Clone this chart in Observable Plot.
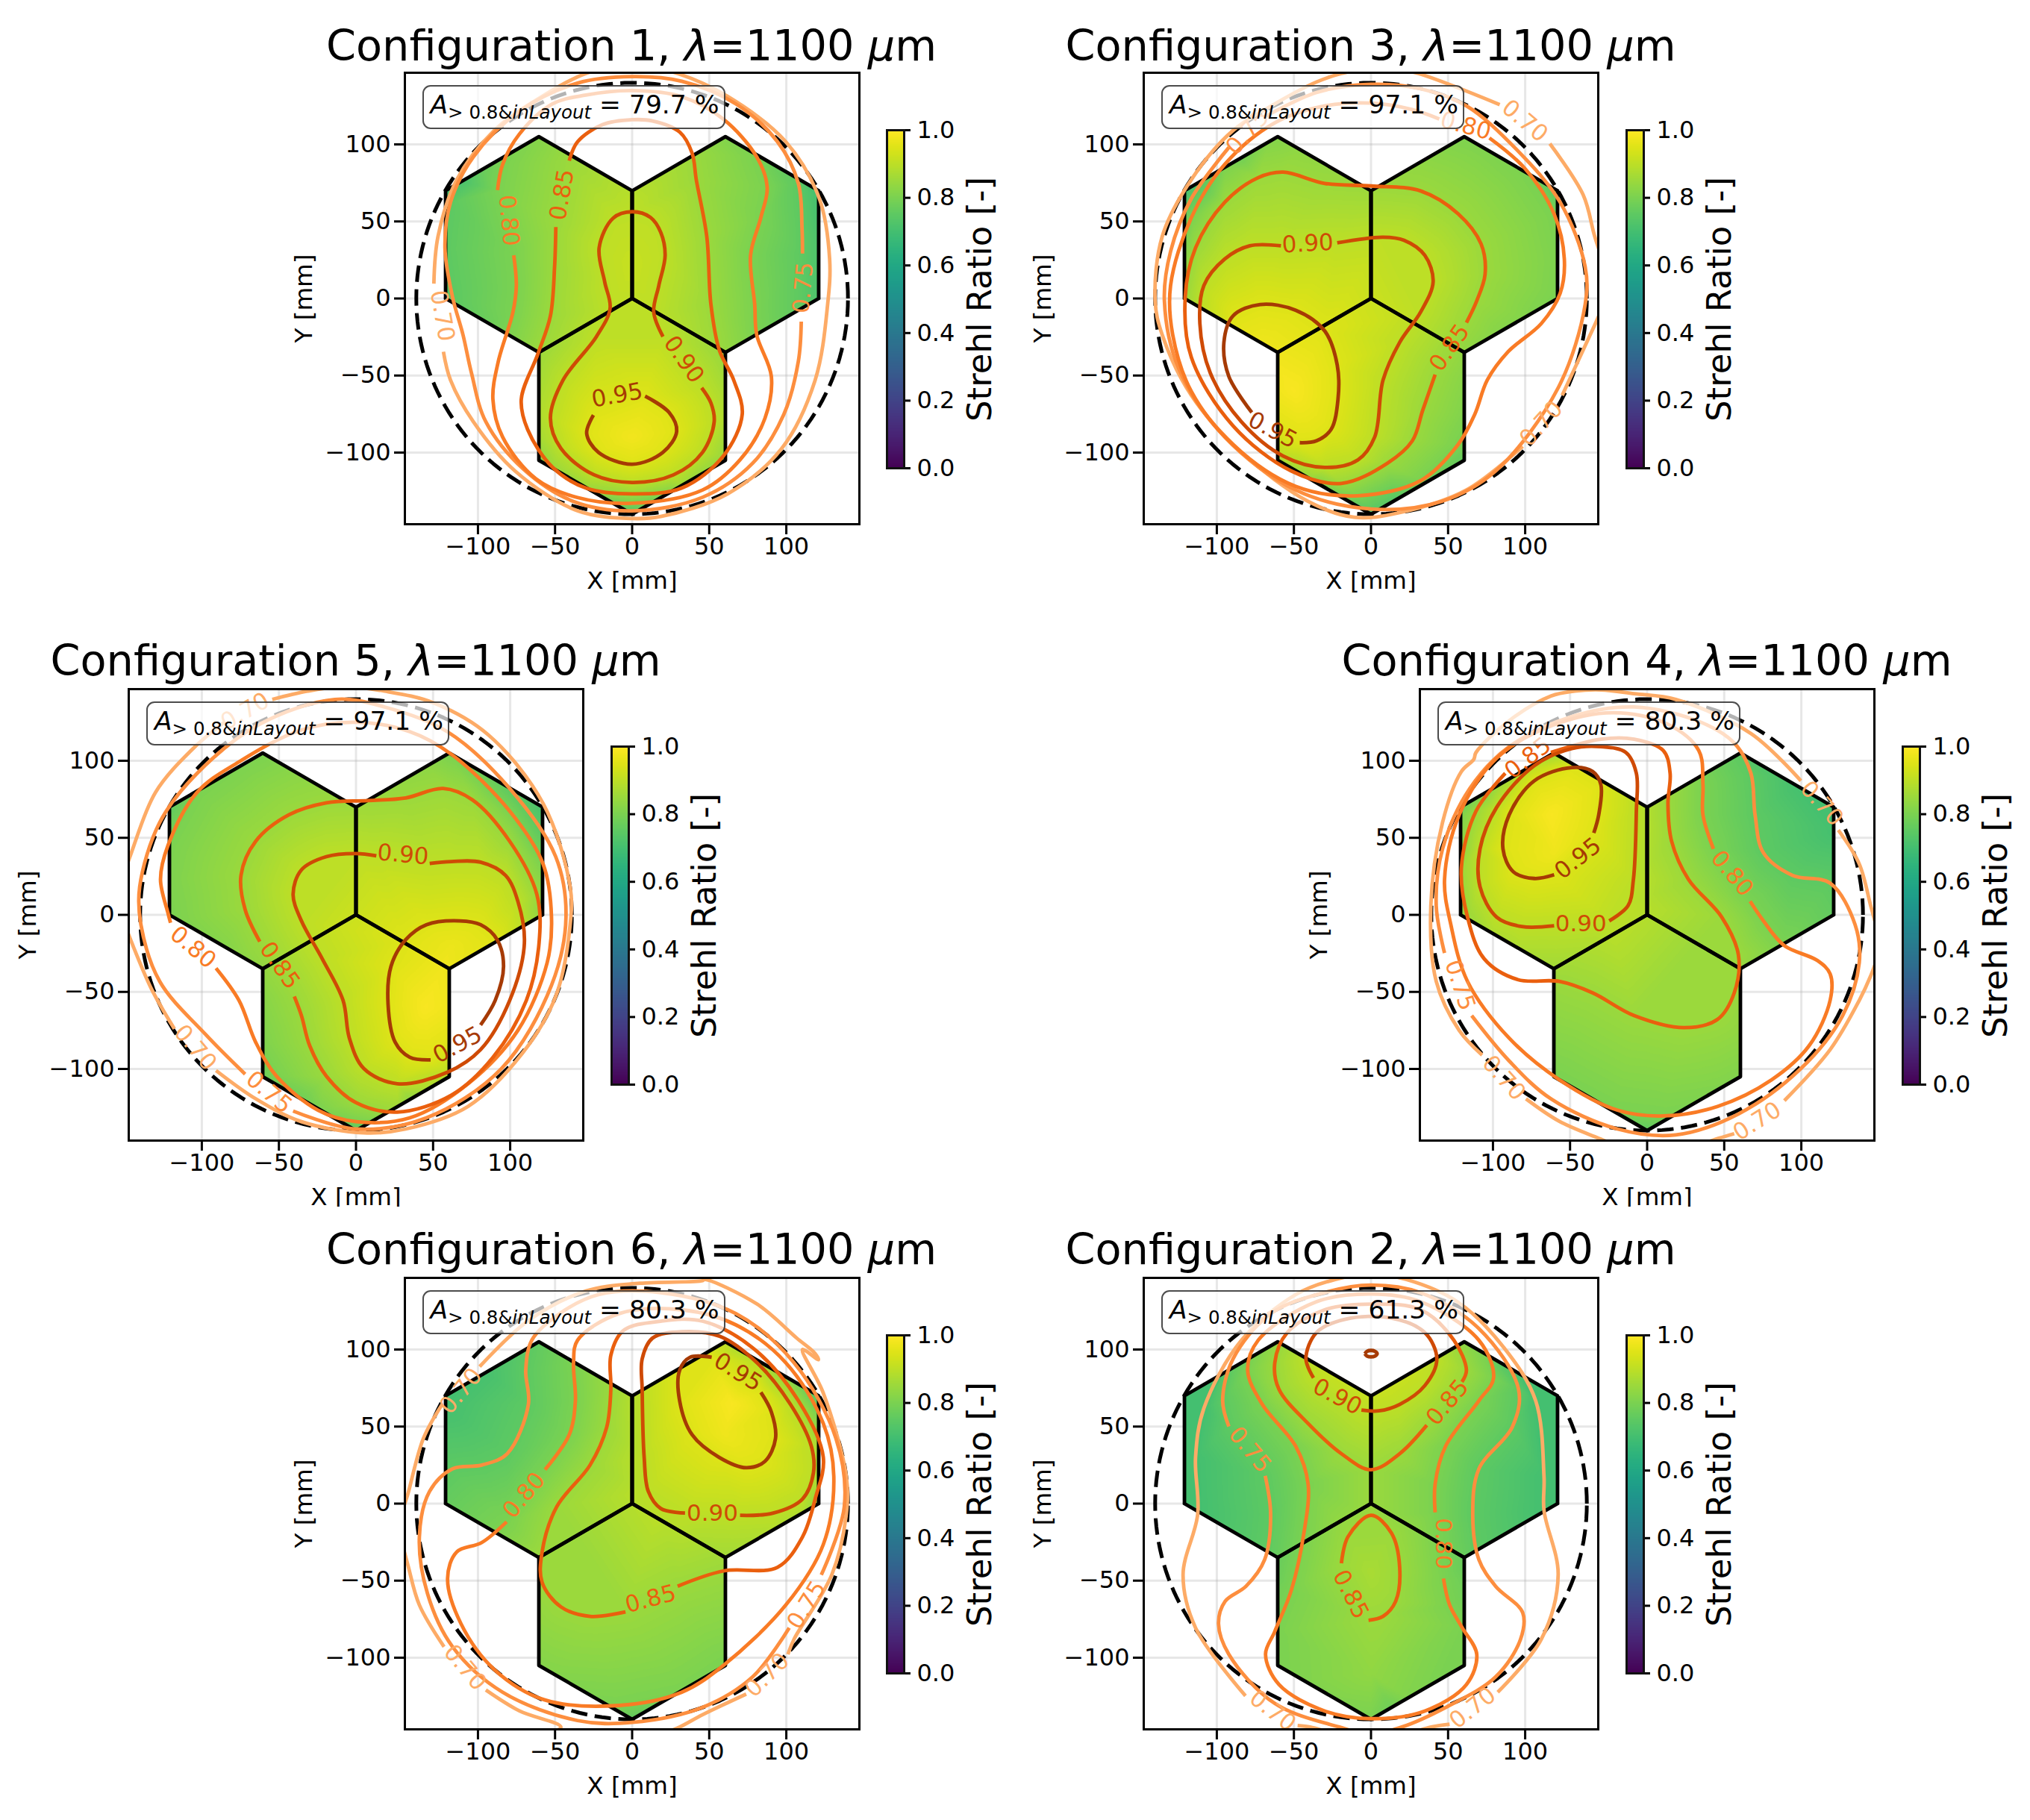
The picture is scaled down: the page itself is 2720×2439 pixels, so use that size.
<!DOCTYPE html>
<html><head><meta charset="utf-8">
<script src="https://cdn.jsdelivr.net/npm/d3@7"></script>
<script src="https://cdn.jsdelivr.net/npm/@observablehq/plot@0.6"></script>
<style>
html,body{margin:0;padding:0;background:#fff}
#root{position:relative;width:2720px;height:2439px;overflow:hidden;background:#fff;font-family:"DejaVu Sans",sans-serif;color:#000}
.title{position:absolute;text-align:center;font-size:57.3px;line-height:70px;white-space:nowrap}
.box{position:absolute;box-sizing:border-box;border:2.5px solid rgba(0,0,0,.7);border-radius:11px;background:rgba(255,255,255,.7);font-size:34.5px;white-space:nowrap;line-height:48px;padding-left:9px}
.box sub{font-size:24.5px;line-height:0;vertical-align:-7px}
svg{position:absolute}
</style></head><body><div id="root"></div>
<script>
const levels=[0.70,0.75,0.80,0.85,0.90,0.95];
const levelColors=["#fdab66","#fd8e3e","#f97b25","#ea5f0e","#cf4a05","#a63a04"];
const xTicks=[-100,-50,0,50,100], yTicks=[-100,-50,0,50,100], barTicks=[0,0.2,0.4,0.6,0.8,1];
const hexLeft=[[-121,0],[-121,70],[-60.5,105],[-0.15,70],[-0.15,0],[-60.5,-35],[-121,0]];
const hexRight=[[121,0],[121,70],[60.5,105],[0.15,70],[0.15,0],[60.5,-35],[121,0]];
const hexBottom=[[0,0],[60.5,-35],[60.5,-105],[0,-140],[-60.5,-105],[-60.5,-35],[0,0]];
const titles={1:"1",2:"2",3:"3",4:"4",5:"5",6:"6"};
const areas={1:"79.7",2:"61.3",3:"97.1",4:"80.3",5:"97.1",6:"80.3"};

// Contours: [x mm, y mm]; null marks the gap left by an inline label.
const c1_95=[[-25.1,-75.7],[-29.5,-87.5],[-21.9,-99.8],[0,-107.6],[20,-99.8],[28.9,-86.2],[24,-74],[8.4,-63.4]];
const c1_90=[[20,-24.8],[14,-8.8],[17.3,8.4],[21.4,28],[18.6,42.8],[11.9,52.6],[0,56.3],[-12.4,52.1],[-21.4,32.9],[-17.8,10.8],[-14.3,-6.4],[-23.2,-24.8],[-44.9,-53.1],[-53,-77.6],[-46.2,-97.3],[-24.6,-114.5],[0,-119.4],[26.8,-114.5],[45.7,-99.8],[53.2,-80.1],[51.1,-67.8],[45.1,-58]];
const c1_85=[[-49.5,46.4],[-50.3,20.6],[-53,-11.3],[-61.1,-35.9],[-71.9,-65.4],[-67.8,-85],[-51.6,-109.6],[-30,-123],[0,-126.8],[32.2,-123],[59.2,-102.2],[71.4,-75.2],[65.9,-53],[56.5,-33.4],[51.1,-3.9],[48.4,40.3],[41.6,77.1],[38.9,94.3],[31,107.9],[13.2,115.2],[0,116],[-19.2,112.8],[-35.4,101.7],[-40.8,89.4]];
const c1_80=[[-87.3,70.3],[-84,87],[-73.2,106.6],[-51.6,126.3],[-30,132],[0,134.9],[32,131],[59,116.5],[80.8,91.9],[87.6,72.2],[83.5,52.6],[76.8,28],[79.5,-3.9],[80.8,-23.6],[90.3,-50.6],[86.2,-77.6],[70,-104.7],[45.7,-124.3],[0,-132.9],[-35.4,-129.2],[-62.4,-117],[-84,-89.9],[-90.3,-65.4],[-86.8,-40.8],[-77.3,-8.8],[-75.1,8.4],[-76.8,28]];
const c1_75=[[110.5,29.2],[110.2,45.2],[107.8,74.7],[94.3,101.7],[67.3,126.3],[32.2,141],[0,144],[-35.4,139.8],[-73.2,121.4],[-103,91.9],[-117.8,62.4],[-121.4,32.9],[-116.5,1],[-109.7,-23.6],[-104.3,-48],[-94.9,-80],[-70.5,-110.8],[-38.1,-131.7],[0,-137.8],[45.7,-129],[78.1,-107],[98.4,-75.2],[107.8,-40.8],[109.7,-15]];
const c1_70=[[-128.6,9.6],[-125.9,40.3],[-113.8,77],[-89.5,109],[-62.4,128.7],[-30,146],[0,152],[29.5,146],[61.9,131.2],[99.7,101.7],[121.4,64.9],[128.1,25.6],[126.8,-3.9],[118.7,-53],[97,-97.3],[61.9,-126.8],[18.6,-141.5],[0,-142.8],[-35.4,-137.8],[-75.9,-112],[-103,-80],[-117.8,-53],[-122.4,-34.6]];
const l1=[[-9.7,-62.9,-10,5],[33.5,-39.6,55,4],[-45.4,67.3,-80,3],[-80,50.6,85,2],[111,7,-85,1],[-123.2,-11.3,80,0]];
const peak1=[[0,-90,0.98],[0,20,0.915]];

const c3_95=[[-77.3,-74],[-92.2,-50.6],[-95.4,-28.5],[-89.5,-11.3],[-71.9,-3.9],[-48.9,-7.6],[-30,-21.1],[-21.9,-43.2],[-21.4,-65.4],[-25.9,-85],[-35.4,-92.4],[-46.2,-93.6]];
const c3_90=[[-58.4,34.2],[-78.6,34.2],[-94.9,25.6],[-108.4,8.4],[-111,-16.2],[-104.3,-48.2],[-84,-80.1],[-57,-102.2],[-30,-109.6],[-8.4,-104.7],[2.4,-89.9],[7.8,-53],[18.6,-28.5],[32.2,-8.8],[40.3,10.8],[34.9,28],[21.4,37.8],[7.8,39.8],[-21.9,36.1]];
const c3_85=[[41.6,-49.4],[33.5,-72.7],[26.8,-92.4],[10.5,-107],[-19.2,-120],[-51.6,-112],[-89.5,-82.6],[-116.5,-38.3],[-120.5,1],[-113.8,32.9],[-94.9,62.4],[-73.2,78.4],[-57,82],[-30,74.7],[0,73],[32.2,69.8],[56.5,55],[71.4,35.4],[74,15.7],[68.6,-1.5],[61.9,-15.7]];
const c3_80=[[76.8,104.2],[99.7,84.5],[118.7,55],[125.4,25.6],[122.7,3.4],[110.5,-16.2],[88.9,-34.6],[75.4,-53],[67.3,-75.2],[56.5,-94.8],[32.2,-118.2],[-8.4,-128],[-48.9,-121.9],[-89.5,-94.8],[-116.5,-60.4],[-128.6,-23.6],[-130,8.4],[-116.5,52.6],[-94.9,87],[-62.4,114],[-30,125],[0,126.8],[26.8,122.6],[44.3,116.5]];
const c3_75=[[-69.2,117.7],[-35.4,133.7],[0,139],[32.2,136.1],[61.9,125],[94.3,96.8],[122.7,62.4],[138.9,20.6],[138.9,-3.9],[121.4,-58],[80.8,-112],[45.7,-131.7],[0,-136.6],[-48.9,-124.3],[-94.9,-89.9],[-124.6,-45.7],[-134,-1.5],[-130,30.5],[-116.5,64.9],[-92.2,98]];
const c3_70=[[8,151],[30.8,146],[83.5,125.8],null,[116,100.5],[137.6,67.3],[145.1,40.3],[150,25.6],null,[151,-4],[145,-17.4],[124,-62.9],null,[98.4,-96],[61.9,-124.3],[18.6,-139],[-11,-142],[-40.8,-131.7],[-84,-99.8],[-116.5,-62.9],[-135.4,-23.6],[-140,-1.5],[-135.4,40.3],[-116.5,77.2],[-89.5,109],[-62.4,126.3],[-35.4,140.5],[-19.2,146],[8,151]];
const l3=[[-63.8,-85.5,28,5],[-41,35.5,-3,4],[51,-32,-55,3],[61.4,112,15,2],[-80,107.9,-48,1],[99.7,115.2,40,0],[110.5,-81.3,-48,0]];
const peak3=[[-50,-60,0.99],[-70,-30,0.975]];

const c5_95=[[80.8,-71.5],[90.3,-55.5],[95.7,-33.4],[91.6,-16.2],[80.8,-6.4],[67.3,-3.9],[45.7,-6.4],[32.2,-16.2],[22.7,-33.4],[20.8,-58],[25.4,-82.6],[34.9,-92.4],[48.4,-94.1]];
const c5_90=[[13.2,38.3],[0,39.8],[-19.2,37.8],[-35.4,29.2],[-40.8,13.3],[-35.4,-3.9],[-21.9,-28.5],[-8.4,-55.5],[-4.3,-80],[5.1,-99.8],[26.8,-109.6],[59.2,-102.2],[80.8,-87.5],[99.7,-55.5],[109.2,-18.7],[105.1,8.4],[97,25.6],[80.8,34.2],[61.9,34.6],[47.8,33.4]];
const c5_85=[[-62.4,-17.4],[-71.9,3.4],[-74.6,25.6],[-65.1,47.7],[-43.5,64.9],[-19.2,72.7],[7.8,74.2],[32.2,75.9],[56.5,82],[75.4,74.7],[99.7,47.7],[117.3,13.3],[118.7,-18.7],[110.5,-55.5],[88.9,-92.4],[61.9,-117],[26.8,-128],[0,-121.9],[-19.2,-104.7],[-30,-85],[-35.4,-65.4],[-40,-53]];
const c5_80=[[-90.8,-34.6],[-75.9,-55.5],[-65.1,-82.6],[-51.6,-104.7],[-24.6,-126.8],[0,-134.2],[34.9,-131.7],[72.7,-109.6],[105,-75],[124,-31],[126.8,-1.5],[121.4,32.9],[99.7,67.3],[61.9,104.2],[34.9,118.9],[0,125],[-35.4,120],[-75.9,99.3],[-103,79.6],[-121.9,45.2],[-126.8,23],[-121.9,1],[-120.3,-5.2]];
const c5_75=[[-71.9,-103.4],[-97.6,-77.6],[-127.3,-43.2],[-139.5,-6.4],[-140.3,18.2],[-127.3,60],[-103,91.9],[-62.4,123.8],[-13.8,139.8],[18.6,134.9],[59.2,118.9],[99.7,82],[129.5,37.8],[136.2,-1.5],[126.8,-45.7],[94.3,-99.8],[45.7,-131.7],[0,-139],[-40.8,-127.3]];
const c5_70=[[-150,28],[-145.7,40.3],[-130,79.6],[-105.7,107.9],[-85.4,125],null,[-54.3,139.8],[-31.4,145.2],[-8,148],[18.6,145.2],[51,137.3],[86.2,116.5],[121.4,72.2],[138.9,18.2],[138.9,-6.4],[129.5,-53],[107.8,-90],[72.7,-124.3],[32.2,-139],[5,-141.5],[-35.4,-134.2],[-65,-119.4],[-90.8,-101],null,[-117.8,-74],[-132.7,-48],[-145.7,-17.4],[-150,-6]];
const l5=[[65.9,-84.5,-28,5],[30.5,39,5,4],[-49.5,-32.9,55,3],[-105.7,-21.1,40,2],[-56.5,-115.2,40,1],[-71.9,132,-30,0],[-104.3,-86.2,50,0]];
const peak5=[[45,-60,0.99],[62,-20,0.97]];

const c4_95=[[-60.3,26],[-73.2,23.6],[-86.8,28],[-93.5,42.8],[-89.5,64.9],[-73.2,87],[-48.9,95.6],[-35.4,93.1],[-30,84.5],[-31.4,64.9],[-34.6,53.1]];
const c4_90=[[-60.3,-7.1],[-81.4,-7.6],[-97.6,-1.5],[-108.4,18.2],[-108.4,42.8],[-97.6,69.8],[-73.2,96.8],[-48.9,107.9],[-30,109.1],[-13.8,105.4],[-7,91.9],[-7,67.3],[-8.9,23],[-12.4,5.9],[-24.6,-3.9]];
const c4_85=[[-92,91.9],[-111,67.3],[-120.5,30.5],[-116.5,-1.5],[-105.7,-28.5],[-84,-42],[-57,-43.2],[-35.4,-50.6],[-8.4,-65.4],[24,-73.2],[45.7,-67.8],[56.5,-50.6],[59.2,-26],[48.4,-1.5],[26.8,23],[15.9,47.7],[13.5,72.2],[14.9,91.9],[10.5,106.6],[-8.4,114],[-30,114],[-62.4,105.4]];
const c4_80=[[43,42.8],[36.2,64.9],[36.2,84.5],[33.5,106.6],[13.2,123.8],[-21.9,131.2],[-62.4,122.6],[-97.6,101.7],[-121.9,64.9],[-131.4,23],[-127.3,-6.4],[-116.5,-43.2],[-89.5,-80],[-57,-107],[-19.2,-126.8],[10.5,-130.5],[45.7,-124.3],[80.8,-107],[105,-85],[118.7,-55.5],[118.7,-38.3],[110.5,-29.7],[88.9,-19.9],[75.4,-3.9],[66.8,8.8]];
const c4_75=[[-131.4,-24.8],[-136.8,5.9],[-132.7,42.8],[-115,82],[-89.5,109.1],[-48.9,128.7],[-8.4,134.9],[34.9,125],[56.5,111.5],[67.3,91.9],[70,64.9],[75.4,40.3],[94.3,25.6],[118.7,20.6],[134.9,-6.4],[137.6,-31],[126.8,-65.4],[99.7,-99.8],[59.2,-129.2],[18.6,-142.8],[-19.2,-139],[-62.4,-119.4],[-89.5,-94.8],[-113.8,-65.4]];
const c4_70=[[99.7,87],[67.3,117.7],[18.6,139.8],[-8.4,143.5],[-30,146],[-47,145.2],[-62.4,142],[-89.5,126],[-111,105.4],[-112.4,101],[-120.5,93],[-132.7,60],[-140.3,5.9],[-136.8,-43.2],[-121.9,-75],[-107,-91],null,[-78.6,-119.4],[-57,-134],[-31.4,-145],[-19,-150],null,[32,-150],[46.5,-145],[56.5,-142],null,[89,-120.6],[118.7,-87.5],[137.6,-55.5],[145,-39.6],[150,-26],null,[148.4,-6.4],[145,5.9],[137.6,33],[124,55]];
const l4=[[-44.9,36.6,-38,5],[-43,-6,0,4],[-77.3,101.7,-38,3],[55.1,26.8,50,2],[-121.4,-45.7,72,1],[113.2,72.2,48,0],[-93,-105.9,48,0],[71.4,-134,-32,0]];
const peak4=[[-62,65,0.99],[-60,40,0.975]];

const c6_95=[[51.6,95],[37.6,95],[30.8,86.5],[30.8,66.8],[38.9,44.7],[56.5,30],[74,23.3],[86.2,27.5],[93,42.3],[90.3,59.5],[83.5,72.2]];
const c6_90=[[34.3,-6.1],[18.6,-3.2],[10.5,7.9],[7.8,30],[6.5,74.2],[6.5,93.9],[13.2,107.4],[32.2,111.5],[56.8,108.6],[81,91.4],[102.7,64.4],[116.2,37.3],[117.6,20],[110.5,3],[91.6,-6.1],[70,-7.6]];
const c6_85=[[-4.3,-70.3],[-27.3,-73.2],[-46.2,-67],[-58.4,-51.1],[-58.4,-31.4],[-48.9,-2],[-27.3,25],[-16.5,49.6],[-13.8,74.2],[-13.8,96.3],[-5.7,112.3],[18.6,118.4],[45.7,118.4],[78.1,101.2],[107.8,66.8],[124,30],[118.7,3],[110.5,-21.6],[94.3,-41.3],[59.2,-43.7],[29.5,-53.6]];
const c6_80=[[-56.5,22],[-40.8,44.7],[-36.8,66.8],[-38,91.4],[-35.4,106],[-8.4,123.3],[32.2,125.8],[67.3,116],[99.7,91.4],[124,52],[130.8,17.7],[124,-26.5],[99.7,-65.8],[59.2,-105],[32.2,-122.4],[-8.4,-131],[-57,-127.3],[-89.5,-107.6],[-111,-78],[-119.7,-48.6],[-113.8,-31.4],[-97.6,-25.3],[-81.4,-11.8]];
const c6_75=[[122.7,-46.2],[137.6,-2],[132.2,42.3],[105,91.4],[67.3,123.3],[18.6,136.9],[-21.9,135.6],[-48.9,122],[-65.1,106],[-69,86.5],[-67.3,64.4],[-81,32.4],[-97.6,25],[-116.5,22.6],[-131.4,7.9],[-138,-21.6],[-132.7,-58.5],[-116.5,-92.9],[-84,-122.4],[-35.4,-140.8],[0,-142],[45.7,-132.2],[78.1,-112.5],[101.9,-80.6]];
const c6_70=[[-98.9,88.9],[-67.8,118.4],[-30,138],[5,143],[45.7,144.7],[47,145.5],[81,129.5],[106.8,107.4],[118.6,97.5],[120.8,93.4],[110.5,100],[124,71.7],[138.9,17.7],[138.9,-6.9],[129.5,-46.2],[105,-88],[101,-97.8],null,[74,-123.6],[45.7,-137],[30.8,-145],[18.6,-150],null,[-55,-150],[-46.2,-145],[-73,-134.6],[-94.9,-121],null,[-122,-92.9],[-138,-65.8],[-145.4,-40],[-149,-26.5],null,[-149,-4.4],[-145.7,5.4],[-135.4,42.3],[-123.2,64.4]];
const l6=[[68.6,85.3,32,5],[52,-6.5,0,4],[12,-62,-15,3],[-70,5.4,-50,2],[113.2,-65.8,-58,1],[-111,73,-50,0],[-108.4,-106.4,50,0],[87.6,-111.3,-45,0]];
const peak6=[[65,65,0.99],[60,45,0.975]];

const c2_95=[[-4,97.3],[-2.5,98.9],[0,99.4],[2.5,98.9],[4,97.3],[2.5,95.7],[0,95.2],[-2.5,95.7],[-4,97.3]];
const c2_90=[[-37.3,81.6],[-42.2,93.9],[-35.4,111],[-16.5,119.7],[13.2,120.4],[34.9,111],[42.7,93.9],[35,76.7],[18.6,64.4],[5,60.2],[-6.2,60.7]];
const c2_85=[[36.2,50.9],[18.6,32.4],[0,22],[-19.2,32.4],[-40.8,52],[-59.7,74.2],[-62.4,91.4],[-54.3,111],[-30,125.8],[0,129.5],[32.2,125.8],[53.8,106],[61.9,86.5],[59,79],null,[-19.2,-38.8],[-15,-21.6],[0,-7.6],[13.2,-19],[18.6,-41.3],[16,-63.4],[7.8,-73.2],[-1.6,-75.7]];
const c2_80=[[41.6,-5.7],[41.6,12.8],[48.4,37.3],[70,66.8],[79.5,81.6],[70,106],[32.2,131],[0,136],[-35.4,131],[-73.2,106],[-80,86.5],[-70.5,64.4],[-48.9,37.3],[-40.8,12.8],[-43.5,-19],[-51.6,-56],[-62.4,-83],[-68.4,-97.8],[-59.7,-117.4],[-30,-134.6],[0,-139.6],[34.9,-134.6],[61.9,-117.4],[68.6,-97.8],[59.2,-80.6],[51,-65.8],[47,-48.6]];
const c2_75=[[-92.2,50.1],[-96.2,66.8],[-89.5,93.9],[-65,123.3],[-30,137],[0,141.8],[32,136.9],[70,113.6],[95.7,74.2],[91.6,49.6],[70,22.6],[66,-6.9],[70,-36.4],[80.8,-53.6],[98.4,-70.8],[97,-88],[80.8,-112.5],[49,-132],[20,-145],[0,-149.4],[-20.5,-145],[-62.4,-129.7],[-92.2,-97.8],[-98.9,-78],[-94.6,-63.4],[-81,-53.6],[-69,-36.4],[-65.1,-6.9],[-68.6,18]];
const c2_70=[[-81.4,-124.8],[-113.8,-80.6],[-121.9,-46.2],[-112.4,-6.9],[-113.8,30],[-108.4,61.9],[-84,106],[-48.9,135.6],[-23.2,145.5],[0,149],[22.7,145.5],[56.5,130.7],[86.2,101.2],[106.8,66.8],[112.2,17.7],[112.2,-4.4],[121.4,-46.2],[110.5,-88],[82.2,-122.4],null,[-47.6,-144],[-39.5,-145],[-32,-147],null,[32,-147],[39,-145],[51,-143.2]];
const l2=[[-21.9,69.3,28,4],[49.7,65.6,-50,3],[-13.2,-59,63,3],[47,-26,90,2],[-78.6,34.9,50,1],[-63.8,-134.6,38,0],[66,-132.7,-38,0]];
const peak2=[[0,85,0.935],[0,-45,0.87],[0,-110,0.835]];

const panels=[
 {id:1,left:541.5,top:97,titleTop:27,clip:null,contours:[c1_70,c1_75,c1_80,c1_85,c1_90,c1_95],labels:l1,peaks:peak1},
 {id:3,left:1532,top:97,titleTop:27,clip:null,contours:[c3_70,c3_75,c3_80,c3_85,c3_90,c3_95],labels:l3,peaks:peak3},
 {id:5,left:172,top:923,titleTop:851,clip:1617,contours:[c5_70,c5_75,c5_80,c5_85,c5_90,c5_95],labels:l5,peaks:peak5},
 {id:4,left:1902,top:923,titleTop:851,clip:1617,contours:[c4_70,c4_75,c4_80,c4_85,c4_90,c4_95],labels:l4,peaks:peak4},
 {id:6,left:541.5,top:1711.5,titleTop:1640,clip:null,contours:[c6_70,c6_75,c6_80,c6_85,c6_90,c6_95],labels:l6,peaks:peak6},
 {id:2,left:1532,top:1711.5,titleTop:1640,clip:null,contours:[c2_70,c2_75,c2_80,c2_85,c2_90,c2_95],labels:l2,peaks:peak2}
];

const FW=609,FH=605,XD=147.4,YD=146.5,ML=170,MT=5;
const root=document.getElementById("root");
const hexes=[hexLeft,hexRight,hexBottom];
const circle=d3.range(0,361,2).map(a=>[140*Math.cos(a*Math.PI/180),140*Math.sin(a*Math.PI/180)]);
const fmt=d3.format(".2f");

function maskedField(){
  const base=Plot.interpolatorBarycentric();
  return (index,w,h,X,Y,V)=>{
    const out=base(index,w,h,X,Y,V);
    for(let j=0;j<h;j++)for(let i=0;i<w;i++){
      const x=-XD+(i+.5)/w*2*XD, y=YD-(j+.5)/h*2*YD;
      if(!hexes.some(p=>d3.polygonContains(p,[x,y]))) out[j*w+i]=NaN;
    }
    return out;
  };
}

for(const p of panels){
  const field=[];
  p.contours.forEach((c,k)=>c.forEach(d=>{if(d&&Math.abs(d[0])<XD&&Math.abs(d[1])<YD)field.push({x:d[0],y:d[1],v:levels[k]});}));
  p.peaks.forEach(d=>field.push({x:d[0],y:d[1],v:d[2]}));
  const lineMarks=p.contours.map((c,k)=>Plot.line(c,{x:d=>d?d[0]:NaN,y:d=>d?d[1]:NaN,stroke:levelColors[k],strokeWidth:4.8,strokeLinecap:"butt",curve:"catmull-rom",clip:"frame"}));
  const labelRows=p.labels.map(d=>({x:d[0],y:d[1],rot:d[2],k:d[3]}));
  const mb=p.clip?p.clip-(p.top+FH):110;
  const svg=Plot.plot({
    width:ML+FW+4,height:MT+FH+mb,marginLeft:ML,marginRight:4,marginTop:MT,marginBottom:mb,
    style:{background:"none",fontFamily:"DejaVu Sans",fontSize:"32px",color:"#000"},
    x:{domain:[-XD,XD],label:null},y:{domain:[-YD,YD],label:null},
    color:{type:"linear",domain:[0,1],scheme:"viridis"},
    marks:[
      Plot.ruleX(xTicks,{stroke:"#b0b0b0",strokeOpacity:.3,strokeWidth:3}),
      Plot.ruleY(yTicks,{stroke:"#b0b0b0",strokeOpacity:.3,strokeWidth:3}),
      Plot.raster(field,{x:"x",y:"y",fill:"v",interpolate:maskedField(),pixelSize:1}),
      ...hexes.map(h=>Plot.line(h,{x:d=>d[0],y:d=>d[1],stroke:"#000",strokeWidth:4.8,strokeLinejoin:"round"})),
      Plot.line(circle,{x:d=>d[0],y:d=>d[1],stroke:"#000",strokeWidth:5,strokeDasharray:"22,10",strokeLinecap:"butt",clip:"frame"}),
      ...lineMarks,
      Plot.text(labelRows,{x:"x",y:"y",rotate:"rot",text:d=>fmt(levels[d.k]),fill:d=>levelColors[d.k],fontSize:31}),
      Plot.axisX(xTicks,{anchor:"bottom",tickSize:14,tickPadding:4,strokeWidth:3,fontSize:32,label:null}),
      Plot.axisY(yTicks,{anchor:"left",tickSize:14,tickPadding:5,strokeWidth:3,fontSize:32,label:null}),
      Plot.text(["X [mm]"],{text:d=>d,frameAnchor:"bottom",lineAnchor:"middle",dy:76,fontSize:32.5}),
      Plot.text(["Y [mm]"],{text:d=>d,frameAnchor:"left",textAnchor:"middle",rotate:-90,dx:-135,fontSize:32.5}),
      Plot.frame({stroke:"#000",strokeWidth:3,fill:"none"})
    ]
  });
  svg.style.left=(p.left-ML)+"px"; svg.style.top=(p.top-MT)+"px";
  root.appendChild(svg);

  const bar=Plot.plot({
    width:220,height:453+10,marginLeft:2,marginRight:195,marginTop:5,marginBottom:5,
    style:{background:"none",fontFamily:"DejaVu Sans",fontSize:"32px",color:"#000",overflow:"visible"},
    x:{domain:[0,1],axis:null},y:{domain:[0,1],label:null},
    color:{type:"linear",domain:[0,1],scheme:"viridis"},
    marks:[
      Plot.raster({x1:0,x2:1,y1:0,y2:1,fill:(x,y)=>y,pixelSize:1}),
      Plot.axisY(barTicks,{anchor:"right",tickSize:8,tickPadding:9,strokeWidth:3,fontSize:32,tickFormat:".1f",label:null}),
      Plot.text(["Strehl Ratio [-]"],{text:d=>d,frameAnchor:"right",textAnchor:"middle",rotate:-90,dx:102,fontSize:45}),
      Plot.frame({stroke:"#111",strokeWidth:3,fill:"none"})
    ]
  });
  bar.style.left=(p.left+646.5-2)+"px"; bar.style.top=(p.top+77-5)+"px";
  root.appendChild(bar);

  const t=document.createElement("div");
  t.className="title";
  t.style.left=(p.left-200)+"px"; t.style.width=(FW+400)+"px"; t.style.top=p.titleTop+"px";
  t.innerHTML="Configuration "+titles[p.id]+", <i>λ</i>=1100 <i>μ</i>m";
  root.appendChild(t);

  const b=document.createElement("div");
  b.className="box";
  b.style.left=(p.left+24)+"px"; b.style.top=(p.top+17)+"px"; b.style.width="406px"; b.style.height="59px";
  b.innerHTML="<i>A</i><sub>&gt; 0.8&amp;<i>inLayout</i></sub> = "+areas[p.id]+" %";
  root.appendChild(b);
}
</script></body></html>
